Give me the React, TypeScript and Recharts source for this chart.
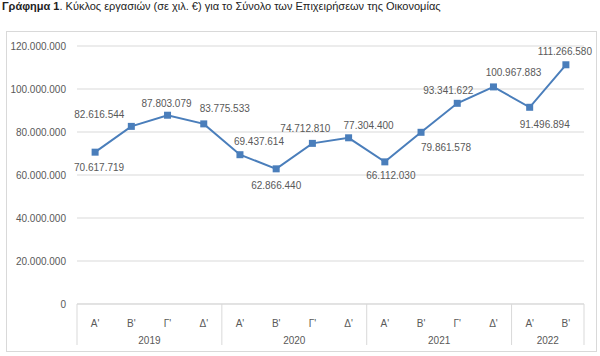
import React from "react";
import { LineChart, Line, XAxis, YAxis, CartesianGrid, LabelList } from "recharts";

const quarters = ["Α'", "Β'", "Γ'", "Δ'", "Α'", "Β'", "Γ'", "Δ'", "Α'", "Β'", "Γ'", "Δ'", "Α'", "Β'"];
const years = ["2019", "2019", "2019", "2019", "2020", "2020", "2020", "2020", "2021", "2021", "2021", "2021", "2022", "2022"];
const turnover = [70617719, 82616544, 87803079, 83775533, 69437614, 62866440, 74712810, 77304400, 66112030, 79861578, 93341622, 100967883, 91496894, 111266580];
const yTicks = [0, 20000000, 40000000, 60000000, 80000000, 100000000, 120000000];

// label placement (style): offset of label centre from the marker
const labelOffsets: [number, number][] = [
  [4, 15], [-32, -12], [-1, -12], [21, -15], [19, -13], [0, 17], [-7, -15],
  [20, -12], [6, 14], [25, 15], [-9, -13], [20, -14], [15, 17], [-1, -13],
];

const data = quarters.map((q, i) => ({ q, year: years[i], value: turnover[i], idx: i }));

const W = 600;
const H = 356;
const M = { top: 46, right: 16, bottom: 0, left: 7 };
const Y_W = 70;
const X_H = 52;
const BW = (W - M.left - M.right - Y_W) / quarters.length;

const TEXT = "#595959";
const GRID = "#d9d9d9";
const BLUE = "#4a7ebb";
const FONT = "'Liberation Sans', Arial, sans-serif";

const fmt = (v: number) => String(Math.round(v)).replace(/\B(?=(\d{3})+(?!\d))/g, ".");

const XTick = (props: any) => {
  const { x, y, index } = props;
  const yr = years[index];
  const first = index === 0 || years[index - 1] !== yr;
  const count = years.filter((v) => v === yr).length;
  const last = index === years.length - 1;
  return (
    <g>
      <text x={x} y={y + 22.5} textAnchor="middle" fill={TEXT} fontSize={10} fontFamily={FONT}>
        {quarters[index]}
      </text>
      {first && (
        <line x1={x - BW / 2} x2={x - BW / 2} y1={y} y2={y + 41} stroke={GRID} strokeWidth={1} />
      )}
      {first && (
        <text x={x - BW / 2 + (count * BW) / 2} y={y + 39.5} textAnchor="middle" fill={TEXT} fontSize={10} fontFamily={FONT}>
          {yr}
        </text>
      )}
      {last && <line x1={x + BW / 2} x2={x + BW / 2} y1={y} y2={y + 41} stroke={GRID} strokeWidth={1} />}
    </g>
  );
};

const SquareDot = (props: any) => {
  const { cx, cy, index } = props;
  if (cx == null || cy == null) return <g key={index} />;
  return <rect key={index} x={cx - 3.5} y={cy - 3.5} width={7} height={7} fill={BLUE} />;
};

const ValueLabel = (props: any) => {
  const { x, y, value, index } = props;
  const [dx, dy] = labelOffsets[index] || [0, -12];
  return (
    <text x={x + dx} y={y + dy + 3.5} textAnchor="middle" fill={TEXT} fontSize={10} fontFamily={FONT}>
      {fmt(value)}
    </text>
  );
};

export default function App() {
  return (
    <div style={{ position: "fixed", left: 0, top: 0, width: W, height: H, background: "#fff" }}>
      <div
        style={{
          position: "absolute",
          left: 2,
          top: 0,
          fontFamily: FONT,
          fontSize: 11,
          lineHeight: "13px",
          color: "#222",
          whiteSpace: "nowrap",
        }}
      >
        <b>Γράφημα 1</b>. Κύκλος εργασιών (σε χιλ. €) για το Σύνολο των Επιχειρήσεων της Οικονομίας
      </div>
      <div
        style={{
          position: "absolute",
          left: 6,
          top: 31,
          width: 591,
          height: 321,
          boxSizing: "border-box",
          border: "1px solid #d9d9d9",
        }}
      />
      <div style={{ position: "absolute", left: 0, top: 0 }}>
        <LineChart width={W} height={H} data={data} margin={M}>
          <CartesianGrid horizontal vertical={false} stroke={GRID} />
          <XAxis
            dataKey="idx"
            type="category"
            height={X_H}
            padding={{ left: BW / 2, right: BW / 2 }}
            tickLine={false}
            tickSize={0}
            tickMargin={0}
            axisLine={{ stroke: GRID }}
            interval={0}
            tick={<XTick />}
          />
          <YAxis
            width={Y_W}
            domain={[0, 120000000]}
            ticks={yTicks}
            tickLine={false}
            axisLine={false}
            tickSize={0}
            tickMargin={11}
            tickFormatter={fmt}
            tick={{ fill: TEXT, fontSize: 10, fontFamily: FONT }}
            interval={0}
          />
          <Line
            type="linear"
            dataKey="value"
            stroke={BLUE}
            strokeWidth={2}
            dot={<SquareDot />}
            activeDot={false}
            isAnimationActive={false}
          >
            <LabelList dataKey="value" content={<ValueLabel />} />
          </Line>
        </LineChart>
      </div>
    </div>
  );
}
